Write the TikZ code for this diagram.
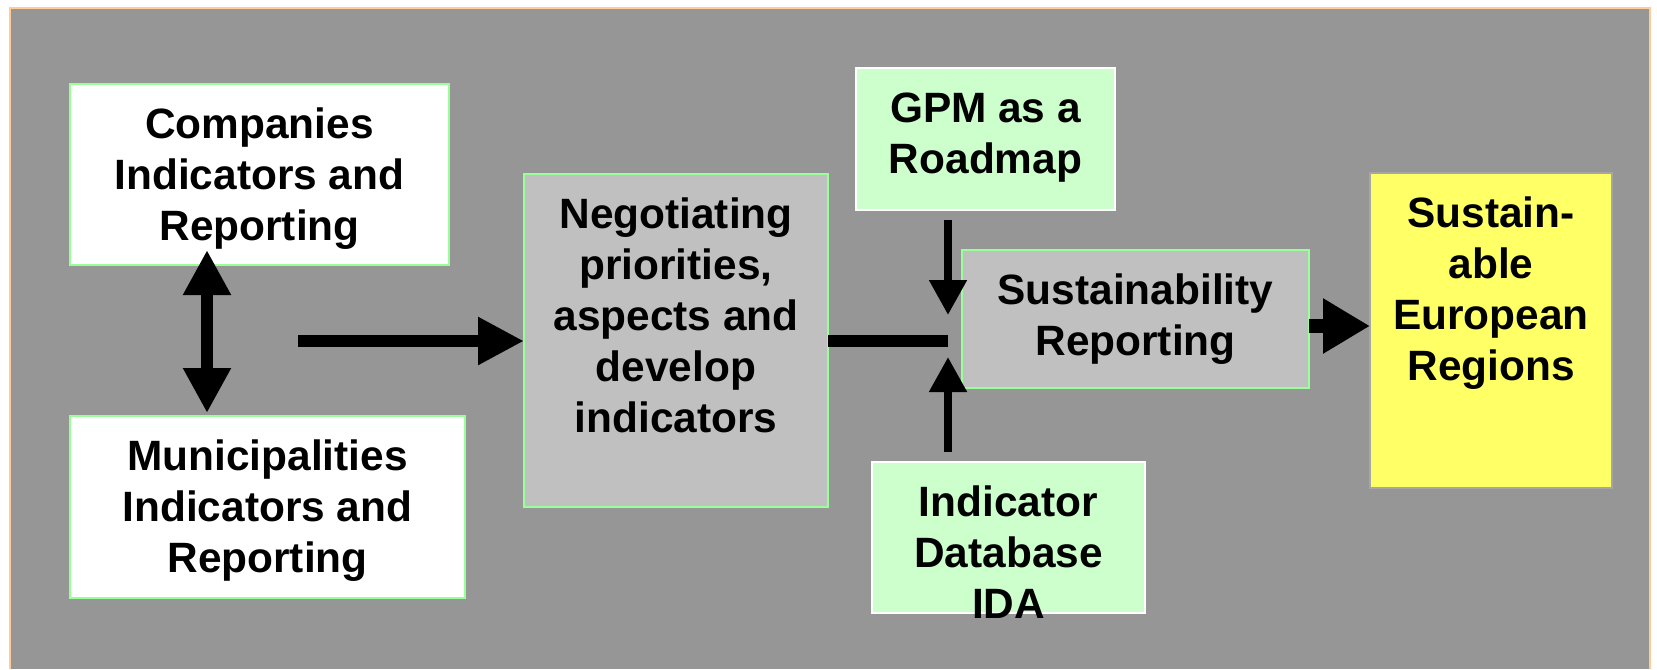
\documentclass[tikz,border=0pt]{standalone}
\usepackage{fontspec}
\setmainfont{Liberation Sans}
\usetikzlibrary{arrows.meta,calc}
\definecolor{bggrey}{HTML}{969696}
\definecolor{framecol}{HTML}{FFCC99}
\definecolor{boxgrey}{HTML}{C0C0C0}
\definecolor{boxgreen}{HTML}{CCFFCC}
\definecolor{edgegreen}{HTML}{99FF99}
\definecolor{boxyellow}{HTML}{FFFF66}
\definecolor{edgeyellow}{HTML}{A6A6A6}
\newcommand\bxtxt[3]{\begin{minipage}[c][#2][t]{#1}\centering\vspace*{9.2pt}\strut #3\end{minipage}}
\begin{document}
\begin{tikzpicture}[x=0.5pt,y=-0.5pt,
  box/.style={anchor=north west,inner sep=0pt,outer sep=0pt,line width=1pt,
    font=\fontsize{21.2}{25.5}\selectfont\bfseries},
  whitebox/.style={box,fill=white,draw=edgegreen},
  greybox/.style={box,fill=boxgrey,draw=edgegreen},
  greenbox/.style={box,fill=boxgreen,draw=white},
  yellowbox/.style={box,fill=boxyellow,draw=edgeyellow,line width=0.6pt},
  bigshaft/.style={line width=6pt},
  dblarrow/.style={line width=6pt,
    {Triangle[length=22.5pt,width=22.5pt]}-{Triangle[length=22.5pt,width=22.5pt]}},
  bigarrow/.style={line width=6pt,-{Triangle[length=23pt,width=22.5pt]}},
  smallarrow/.style={line width=4pt,-{Triangle[length=17.5pt,width=18pt]}},
  outarrow/.style={line width=7pt,-{Triangle[length=23.5pt,width=26pt]}}
]
\useasboundingbox (0,0) rectangle (1657,669);
\fill[white] (0,0) rectangle (1657,669);
\fill[bggrey] (10,8) rectangle (1650,669);
\draw[framecol,line width=1pt] (10,669) -- (10,8) -- (1650,8) -- (1650,669);

\node[whitebox] (comp) at (70,84) {\bxtxt{189.5pt}{90.5pt}{Companies\\Indicators and\\Reporting}};
\node[whitebox] (muni) at (70,416) {\bxtxt{197.5pt}{91pt}{Municipalities\\Indicators and\\Reporting}};
\node[greybox] (nego) at (524,174) {\bxtxt{152pt}{166.5pt}{Negotiating\\priorities,\\aspects and\\develop\\indicators}};
\node[greenbox] (gpm) at (856,68) {\bxtxt{129.5pt}{71pt}{GPM as a\\Roadmap}};
\node[greybox] (sust) at (962,250) {\bxtxt{173.5pt}{69pt}{Sustainability\\Reporting}};
\node[greenbox] (ida) at (872,462) {\bxtxt{136.5pt}{75.5pt}{Indicator\\Database\\IDA}};
\node[yellowbox] (ser) at (1370,173) {\bxtxt{121pt}{157.5pt}{Sustain-\\able\\European\\Regions}};

\coordinate (hstart) at (298,341);
\coordinate (junc) at (948,341);
\coordinate (dstart) at (948,220);
\coordinate (dend) at (948,315);
\coordinate (ustart) at (948,452);
\coordinate (uend) at (948,357);

\draw[dblarrow] ($(comp.south)+(-52.5,-15)$) -- ($(muni.north)+(-60.5,-3)$);
\draw[bigarrow] (hstart) -- (hstart -| nego.west);
\draw[bigshaft] (nego.east |- junc) -- (junc);
\draw[smallarrow] (dstart) -- (dend);
\draw[smallarrow] (ustart) -- (uend);
\draw[outarrow] ($(sust.east)+(0,7)$) -- ($(ser.west)+(0,-4.5)$);
\end{tikzpicture}
\end{document}
